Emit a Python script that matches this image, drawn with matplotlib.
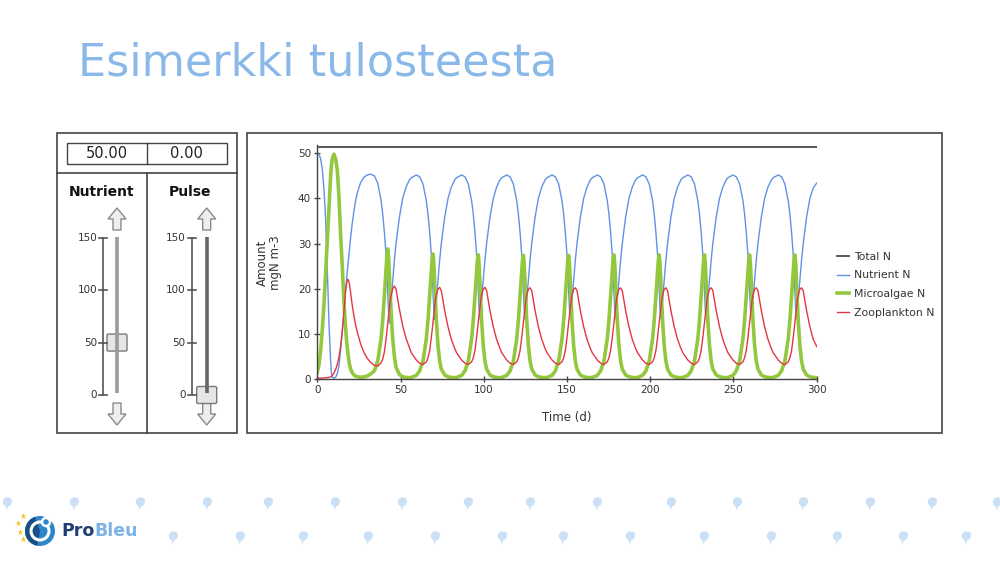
import matplotlib
matplotlib.use('Agg')
import matplotlib.pyplot as plt
from matplotlib.patches import Rectangle, Polygon, Circle, FancyBboxPatch, Wedge
from matplotlib.path import Path

# ---- data (days, mgN m-3) ----
days = [
    0, 1, 2, 3, 4, 5, 6, 7, 7.5, 8, 8.5, 9, 10, 11, 12, 13, 14, 15, 16, 17, 17.7, 18.4, 19.2, 20, 21, 22, 23, 24, 26, 28, 30, 32,
    34.3, 36.3, 38.3, 39.3, 40.3, 41.3, 41.8, 42.3, 42.8, 43.3, 43.8, 44.3, 45.3, 46.3, 47.3, 49.3, 51.3, 53.3, 55.3,
    56.5, 59.5, 61.5, 63.5, 65.5, 66.5, 67.5, 68.5, 69.0, 69.5, 70.0, 70.5, 71.0, 71.5, 72.5, 73.5, 74.5, 76.5, 78.5, 80.5, 82.5,
    83.7, 86.7, 88.7, 90.7, 92.7, 93.7, 94.7, 95.7, 96.2, 96.7, 97.2, 97.7, 98.2, 98.7, 99.7, 100.7, 101.7, 103.7, 105.7, 107.7, 109.7,
    110.8, 113.8, 115.8, 117.8, 119.8, 120.8, 121.8, 122.8, 123.3, 123.8, 124.3, 124.8, 125.3, 125.8, 126.8, 127.8, 128.8, 130.8, 132.8, 134.8, 136.8,
    138.0, 141.0, 143.0, 145.0, 147.0, 148.0, 149.0, 150.0, 150.5, 151.0, 151.5, 152.0, 152.5, 153.0, 154.0, 155.0, 156.0, 158.0, 160.0, 162.0, 164.0,
    165.2, 168.2, 170.2, 172.2, 174.2, 175.2, 176.2, 177.2, 177.7, 178.2, 178.7, 179.2, 179.7, 180.2, 181.2, 182.2, 183.2, 185.2, 187.2, 189.2, 191.2,
    192.4, 195.4, 197.4, 199.4, 201.4, 202.4, 203.4, 204.4, 204.9, 205.4, 205.9, 206.4, 206.9, 207.4, 208.4, 209.4, 210.4, 212.4, 214.4, 216.4, 218.4,
    219.6, 222.6, 224.6, 226.6, 228.6, 229.6, 230.6, 231.6, 232.1, 232.6, 233.1, 233.6, 234.1, 234.6, 235.6, 236.6, 237.6, 239.6, 241.6, 243.6, 245.6,
    246.7, 249.7, 251.7, 253.7, 255.7, 256.7, 257.7, 258.7, 259.2, 259.7, 260.2, 260.7, 261.2, 261.7, 262.7, 263.7, 264.7, 266.7, 268.7, 270.7, 272.7,
    273.9, 276.9, 278.9, 280.9, 282.9, 283.9, 284.9, 285.9, 286.4, 286.9, 287.4, 287.9, 288.4, 288.9, 289.9, 290.9, 291.9, 293.9, 295.9, 297.9, 300.0,
]

nutrient = [
    50, 49.8, 48.8, 46.5, 42, 35.5, 24.5, 12.5, 8, 4, 1.3, 0.4, 0.15, 0.4, 1.2, 2.8, 6.5, 10.3, 14.5, 19.5, 22.6, 25.3, 28.4, 31.3, 34.5, 37.2, 39.5, 41.2, 43.5, 44.7, 45.2, 45.4,
    45.0, 43.4, 39.6, 36.5, 32.5, 27.5, 23.5, 19.0, 15.0, 12.4, 14.2, 17.0, 21.8, 26.4, 30.0, 35.8, 40.0, 42.5, 44.1,
    44.6, 45.2, 44.8, 43.2, 39.5, 36.5, 32.5, 27.5, 23.5, 19.2, 15.3, 13.2, 15.0, 17.5, 22.0, 26.3, 30.0, 35.8, 40.0, 42.5, 44.1,
    44.6, 45.2, 44.8, 43.2, 39.5, 36.5, 32.5, 27.5, 23.5, 19.2, 15.3, 13.4, 15.0, 17.5, 22.0, 26.3, 30.0, 35.8, 40.0, 42.5, 44.1,
    44.6, 45.2, 44.8, 43.2, 39.5, 36.5, 32.5, 27.5, 23.5, 19.2, 15.3, 13.4, 15.0, 17.5, 22.0, 26.3, 30.0, 35.8, 40.0, 42.5, 44.1,
    44.6, 45.2, 44.8, 43.2, 39.5, 36.5, 32.5, 27.5, 23.5, 19.2, 15.3, 13.4, 15.0, 17.5, 22.0, 26.3, 30.0, 35.8, 40.0, 42.5, 44.1,
    44.6, 45.2, 44.8, 43.2, 39.5, 36.5, 32.5, 27.5, 23.5, 19.2, 15.3, 13.4, 15.0, 17.5, 22.0, 26.3, 30.0, 35.8, 40.0, 42.5, 44.1,
    44.6, 45.2, 44.8, 43.2, 39.5, 36.5, 32.5, 27.5, 23.5, 19.2, 15.3, 13.4, 15.0, 17.5, 22.0, 26.3, 30.0, 35.8, 40.0, 42.5, 44.1,
    44.6, 45.2, 44.8, 43.2, 39.5, 36.5, 32.5, 27.5, 23.5, 19.2, 15.3, 13.4, 15.0, 17.5, 22.0, 26.3, 30.0, 35.8, 40.0, 42.5, 44.1,
    44.6, 45.2, 44.8, 43.2, 39.5, 36.5, 32.5, 27.5, 23.5, 19.2, 15.3, 13.4, 15.0, 17.5, 22.0, 26.3, 30.0, 35.8, 40.0, 42.5, 44.1,
    44.6, 45.2, 44.8, 43.2, 39.5, 36.5, 32.5, 27.5, 23.5, 19.2, 15.3, 13.4, 15.0, 17.5, 22.0, 26.3, 30.0, 35.8, 40.0, 42.3, 43.4,
]

microalgae = [
    1.5, 3.2, 6.3, 11, 16.5, 23.5, 30.5, 38, 41.8, 45, 47.3, 48.8, 49.8, 48.8, 46.3, 40.5, 32.0, 25.0, 17.2, 11.3, 8, 5.6, 3.5, 2.2, 1.4, 0.9, 0.65, 0.5, 0.4, 0.45, 0.65, 1.1,
    1.8, 4.0, 8.9, 13.0, 18.5, 24.5, 27.3, 28.8, 27.0, 23.0, 18.5, 15.0, 9.0, 5.0, 2.6, 1.0, 0.5, 0.35, 0.3,
    0.35, 0.8, 1.8, 4.0, 8.9, 13.0, 18.5, 24.0, 26.6, 27.7, 25.6, 21.5, 17.0, 13.0, 7.4, 4.0, 2.2, 0.9, 0.5, 0.35, 0.3,
    0.35, 0.8, 1.8, 4.0, 8.9, 13.0, 18.5, 24.0, 26.5, 27.5, 25.5, 21.5, 17.0, 13.0, 7.4, 4.0, 2.2, 0.9, 0.5, 0.35, 0.3,
    0.35, 0.8, 1.8, 4.0, 8.9, 13.0, 18.5, 24.0, 26.5, 27.4, 25.5, 21.5, 17.0, 13.0, 7.4, 4.0, 2.2, 0.9, 0.5, 0.35, 0.3,
    0.35, 0.8, 1.8, 4.0, 8.9, 13.0, 18.5, 24.0, 26.5, 27.4, 25.5, 21.5, 17.0, 13.0, 7.4, 4.0, 2.2, 0.9, 0.5, 0.35, 0.3,
    0.35, 0.8, 1.8, 4.0, 8.9, 13.0, 18.5, 24.0, 26.5, 27.5, 25.5, 21.5, 17.0, 13.0, 7.4, 4.0, 2.2, 0.9, 0.5, 0.35, 0.3,
    0.35, 0.8, 1.8, 4.0, 8.9, 13.0, 18.5, 24.0, 26.5, 27.5, 25.5, 21.5, 17.0, 13.0, 7.4, 4.0, 2.2, 0.9, 0.5, 0.35, 0.3,
    0.35, 0.8, 1.8, 4.0, 8.9, 13.0, 18.5, 24.0, 26.5, 27.5, 25.5, 21.5, 17.0, 13.0, 7.4, 4.0, 2.2, 0.9, 0.5, 0.35, 0.3,
    0.35, 0.8, 1.8, 4.0, 8.9, 13.0, 18.5, 24.0, 26.5, 27.5, 25.5, 21.5, 17.0, 13.0, 7.4, 4.0, 2.2, 0.9, 0.5, 0.35, 0.3,
    0.35, 0.8, 1.8, 4.0, 8.9, 13.0, 18.5, 24.0, 26.5, 27.5, 25.5, 21.5, 17.0, 13.0, 7.4, 4.0, 2.2, 0.9, 0.5, 0.35, 0.3,
]

zooplankton = [
    0.2, 0.2, 0.2, 0.2, 0.25, 0.25, 0.3, 0.35, 0.4, 0.5, 0.6, 0.8, 1.3, 2.1, 3.2, 4.8, 7.2, 10.8, 15, 19.6, 21.5, 22.1, 21.3, 19.2, 16.3, 14, 12, 10.4, 7.8, 5.9, 4.6, 3.7,
    3.0, 2.85, 3.6, 4.4, 6.0, 8.8, 10.4, 12.2, 14.0, 15.8, 17.4, 18.5, 20.0, 20.6, 19.9, 15.5, 11.8, 9.0, 7.0,
    5.8, 4.2, 3.5, 3.2, 3.8, 4.7, 6.3, 9.2, 10.9, 12.7, 14.5, 16.1, 17.5, 18.6, 19.9, 20.3, 19.6, 15.2, 11.6, 8.8, 6.8,
    5.8, 4.2, 3.5, 3.2, 3.8, 4.7, 6.3, 9.2, 10.9, 12.7, 14.5, 16.1, 17.5, 18.6, 19.9, 20.3, 19.6, 15.2, 11.6, 8.8, 6.8,
    5.8, 4.2, 3.5, 3.2, 3.8, 4.7, 6.3, 9.2, 10.9, 12.7, 14.5, 16.1, 17.5, 18.6, 19.9, 20.2, 19.6, 15.2, 11.6, 8.8, 6.8,
    5.8, 4.2, 3.5, 3.2, 3.8, 4.7, 6.3, 9.2, 10.9, 12.7, 14.5, 16.1, 17.5, 18.6, 19.9, 20.2, 19.6, 15.2, 11.6, 8.8, 6.8,
    5.8, 4.2, 3.5, 3.2, 3.8, 4.7, 6.3, 9.2, 10.9, 12.7, 14.5, 16.1, 17.5, 18.6, 19.9, 20.2, 19.6, 15.2, 11.6, 8.8, 6.8,
    5.8, 4.2, 3.5, 3.2, 3.8, 4.7, 6.3, 9.2, 10.9, 12.7, 14.5, 16.1, 17.5, 18.6, 19.9, 20.2, 19.6, 15.2, 11.6, 8.8, 6.8,
    5.8, 4.2, 3.5, 3.2, 3.8, 4.7, 6.3, 9.2, 10.9, 12.7, 14.5, 16.1, 17.5, 18.6, 19.9, 20.2, 19.6, 15.2, 11.6, 8.8, 6.8,
    5.8, 4.2, 3.5, 3.2, 3.8, 4.7, 6.3, 9.2, 10.9, 12.7, 14.5, 16.1, 17.5, 18.6, 19.9, 20.2, 19.6, 15.2, 11.6, 8.8, 6.8,
    5.8, 4.2, 3.5, 3.2, 3.8, 4.7, 6.3, 9.2, 10.9, 12.7, 14.5, 16.1, 17.5, 18.6, 19.9, 20.2, 19.6, 15.2, 11.6, 8.8, 7.2,
]

total_days = [0, 300]
total_n = [51.3, 51.3]

series_labels = ['Total N', 'Nutrient N', 'Microalgae N', 'Zooplankton N']
slider_ticks = [0, 50, 100, 150]
slider_names = ['Nutrient', 'Pulse']
slider_values = [50.00, 0.00]

# decoration drops along the bottom of the slide (pixel x positions)
drops_row1 = [7, 74, 140, 207, 268, 335, 402, 468, 530, 597, 671, 737, 803, 870, 932, 997]
drops_row2 = [173, 240, 303, 368, 435, 502, 563, 630, 704, 771, 837, 903, 966]

fig = plt.figure(figsize=(10, 5.63), dpi=100)

# overlay in pixel coordinates for slide furniture
bg = fig.add_axes([0, 0, 1, 1])
bg.set_xlim(0, 1000)
bg.set_ylim(563, 0)
bg.axis('off')

bg.text(78, 76, 'Esimerkki tulosteesta', fontsize=32, color='#8AB9E9', va='baseline', ha='left')

edge = '#444444'
# left control panel
bg.add_patch(Rectangle((56.7, 132.5), 180, 300.8, fill=False, ec=edge, lw=1.2))
bg.plot([56.7, 236.7], [172.7, 172.7], color=edge, lw=1.2)
bg.plot([146.7, 146.7], [172.7, 433.3], color=edge, lw=1.2)
bg.add_patch(Rectangle((66.7, 142.7), 160, 21.6, fill=False, ec=edge, lw=1.0))
bg.plot([146.7, 146.7], [142.7, 164.3], color=edge, lw=1.0)
for cx, val in zip([106.7, 186.7], slider_values):
    bg.text(cx, 154, '%.2f' % val, fontsize=10.5, ha='center', va='center', color='#222')


def tick_to_px(v):
    return 395 - v * (395 - 237.7) / 150


def arrow(cx, up=True):
    if up:
        pts = [(cx - 4, 230), (cx + 4, 230), (cx + 4, 219), (cx + 9, 219), (cx, 208), (cx - 9, 219), (cx - 4, 219)]
    else:
        pts = [(cx - 4, 403), (cx + 4, 403), (cx + 4, 414), (cx + 9, 414), (cx, 425), (cx - 9, 414), (cx - 4, 414)]
    bg.add_patch(Polygon(pts, closed=True, fc='#eeeeee', ec='#8a8a8a', lw=1.0))


for i, name in enumerate(slider_names):
    axis_x = 103.3 + i * 88.4
    track_x = 117.0 + i * 89.7
    bg.text(axis_x - 2, 192, name, fontsize=10, fontweight='bold', ha='center', va='center', color='#111')
    bg.plot([axis_x, axis_x], [tick_to_px(0), tick_to_px(150)], color='#555', lw=1.2)
    for t in slider_ticks:
        y = tick_to_px(t)
        bg.plot([axis_x - 4, axis_x + 4], [y, y], color='#555', lw=1.2)
        bg.text(axis_x - 6, y, str(t), fontsize=7.5, ha='right', va='center', color='#333')
    bg.plot([track_x, track_x], [236.7, 393.3], color='#9a9a9a' if i == 0 else '#666666', lw=2.6,
            solid_capstyle='butt')
    arrow(track_x, up=True)
    arrow(track_x, up=False)
    ty = tick_to_px(slider_values[i])
    bg.add_patch(FancyBboxPatch((track_x - 10, ty - 8.5), 20, 17, boxstyle='round,pad=0,rounding_size=1.5',
                                fc='#e6e6e6', ec='#7a7a7a', lw=1.0))

# chart panel frame
bg.add_patch(Rectangle((246.7, 132.5), 695, 300.8, fill=False, ec=edge, lw=1.2))
bg.text(269, 263, 'Amount\nmgN m-3', rotation=90, ha='center', va='center', fontsize=8.5,
        multialignment='center', color='#333', linespacing=1.1)
bg.text(567, 417, 'Time (d)', ha='center', va='center', fontsize=8.5, color='#333')

# drops
drop = Path([(0.0, 1.0), (0.55, 0.85), (0.75, 0.35), (0.55, -0.2), (0.05, -0.55), (-0.15, -1.1),
             (-0.3, -0.5), (-0.7, -0.1), (-0.75, 0.4), (-0.5, 0.85), (0.0, 1.0)])
bg.plot(drops_row1, [503] * len(drops_row1), ls='none', marker=drop, ms=10, color='#CBE0F5', mec='none')
bg.plot(drops_row2, [537] * len(drops_row2), ls='none', marker=drop, ms=10, color='#CBE0F5', mec='none')

# logo
bg.add_patch(Circle((40, 531), 15, fc='#2C86C9', ec='none'))
bg.add_patch(Wedge((40, 531), 15, 100, 250, fc='#1C4E86', ec='none'))
bg.add_patch(Circle((40, 531), 9, fc='none', ec='white', lw=2.2))
bg.add_patch(Circle((46, 522), 4, fc='#2C86C9', ec='white', lw=1.8))
bg.plot([23, 18, 20, 23], [516, 523, 532, 539], ls='none', marker='*', ms=5, color='#F2C21B', mec='none')
pro = bg.text(61, 531, 'Pro', fontsize=12.5, fontweight='bold', color='#1E3F73', va='center', ha='left')
fig.canvas.draw()
bb = pro.get_window_extent().transformed(bg.transData.inverted())
bg.text(bb.x1, 531, 'Bleu', fontsize=12.5, fontweight='bold', color='#7DB3E6', va='center', ha='left')

# the model chart
ax = fig.add_axes([317.3 / 1000, (563 - 379) / 563, 499.4 / 1000, (379 - 145.2) / 563])
ax.patch.set_alpha(0)
ax.plot(total_days, total_n, color='#4a4a4a', lw=1.3, label=series_labels[0])
ax.plot(days, nutrient, color='#6192E4', lw=1.0, label=series_labels[1])
ax.plot(days, microalgae, color='#93C83E', lw=2.6, label=series_labels[2])
ax.plot(days, zooplankton, color='#E23645', lw=1.0, label=series_labels[3])
ax.set_xlim(0, 300)
ax.set_ylim(0, 51.8)
ax.set_xticks(range(0, 301, 50))
ax.set_yticks(range(0, 51, 10))
for s in ['top', 'right']:
    ax.spines[s].set_visible(False)
for s in ['left', 'bottom']:
    ax.spines[s].set_color('#444')
    ax.spines[s].set_linewidth(1.0)
ax.tick_params(direction='inout', length=5, width=1.0, color='#444', labelsize=7.5, labelcolor='#333', pad=2)

ax.legend(loc='upper left', bbox_to_anchor=(0.837, 1 - 251.5 / 563), bbox_transform=fig.transFigure,
          frameon=False, fontsize=7.8, handlelength=1.1, handletextpad=0.5, labelspacing=0.82,
          borderaxespad=0, borderpad=0, labelcolor='#333')

fig.savefig('out.png', dpi=100)
